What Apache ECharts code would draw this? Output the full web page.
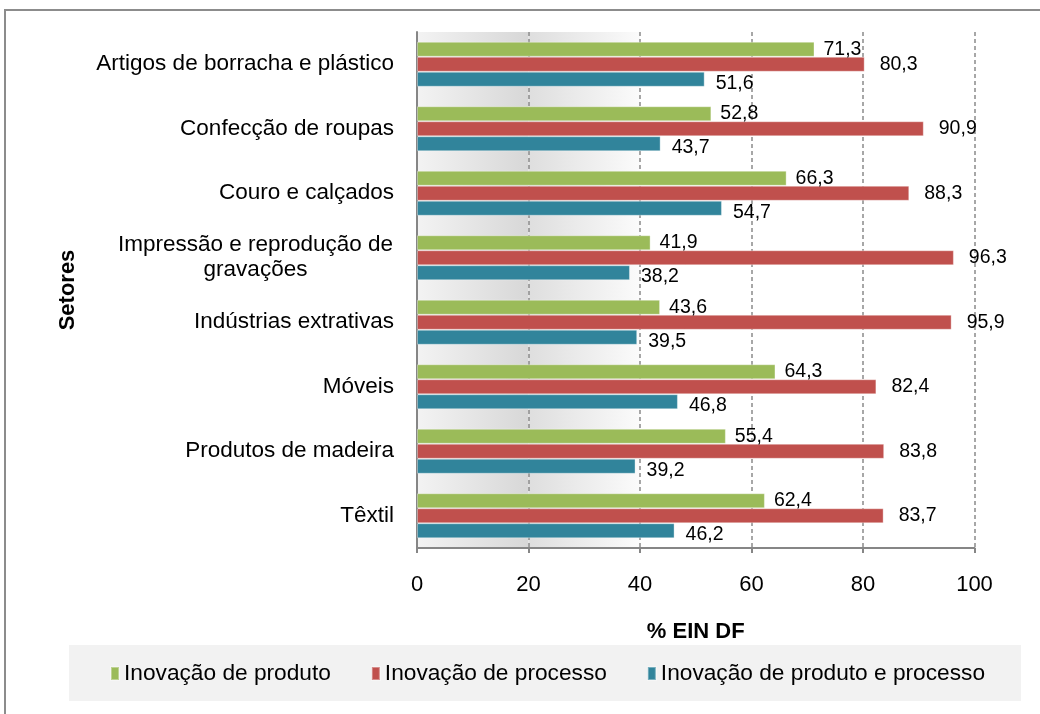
<!DOCTYPE html>
<html>
<head>
<meta charset="utf-8">
<script src="https://cdn.jsdelivr.net/npm/echarts@6/dist/echarts.min.js"></script>
<style>
  html, body { margin: 0; padding: 0; background: #ffffff; }
  #chart { width: 1040px; height: 714px; }
</style>
</head>
<body>
<div id="chart"></div>
<script>
// Sectors (category axis, top to bottom)
const sectors = [
  'Artigos de borracha e plástico',
  'Confecção de roupas',
  'Couro e calçados',
  'Impressão e reprodução de\ngravações',
  'Indústrias extrativas',
  'Móveis',
  'Produtos de madeira',
  'Têxtil'
];

// Series names
const seriesNames = [
  'Inovação de produto',
  'Inovação de processo',
  'Inovação de produto e processo'
];

// Share of innovating firms (%) per sector
const productValues = [71.3, 52.8, 66.3, 41.9, 43.6, 64.3, 55.4, 62.4];
const processValues = [80.3, 90.9, 88.3, 96.3, 95.9, 82.4, 83.8, 83.7];
const bothValues    = [51.6, 43.7, 54.7, 38.2, 39.5, 46.8, 39.2, 46.2];

// Value axis ticks
const xTicks = [0, 20, 40, 60, 80, 100];

const FONT = '"Liberation Sans", Arial, Helvetica, sans-serif';
const colors = ['#9BBB59', '#C0504D', '#31849B'];
const CAT_SIZE = 22.5;

// Width of the widest line among multi-line sector names, so the lines can be centred on each other
const measureCtx = document.createElement('canvas').getContext('2d');
measureCtx.font = CAT_SIZE + 'px ' + FONT;
let multiLineWidth = 0;
sectors.forEach(s => {
  const lines = s.split('\n');
  if (lines.length > 1) {
    lines.forEach(l => { multiLineWidth = Math.max(multiLineWidth, measureCtx.measureText(l).width); });
  }
});
multiLineWidth = Math.ceil(multiLineWidth) + 1;

const fmtComma = p => p.value.toFixed(1).replace('.', ',');

function barSeries(name, data, color, distance, offset) {
  return {
    name: name,
    type: 'bar',
    data: data,
    barWidth: 15,
    barGap: '0%',
    itemStyle: { color: color, borderColor: 'rgba(255,255,255,0.35)', borderWidth: 1 },
    label: {
      show: true,
      position: 'right',
      distance: distance,
      offset: offset,
      formatter: fmtComma,
      fontFamily: FONT,
      fontSize: 19.5,
      color: '#000000'
    },
    emphasis: { disabled: true }
  };
}

// Gradient fills for the shaded bands 0–20 and 20–40
const bandA = new echarts.graphic.LinearGradient(0, 0, 1, 0, [
  { offset: 0, color: '#f3f3f3' },
  { offset: 1, color: '#d7d7d7' }
]);
const bandB = new echarts.graphic.LinearGradient(0, 0, 1, 0, [
  { offset: 0, color: '#dedede' },
  { offset: 1, color: '#fbfbfb' }
]);

const chart = echarts.init(document.getElementById('chart'), null, { renderer: 'canvas' });

chart.setOption({
  backgroundColor: '#ffffff',
  animation: false,
  textStyle: { fontFamily: FONT },
  graphic: [
    {
      type: 'rect',
      z: 0,
      shape: { x: 5, y: 10, width: 1200, height: 900 },
      style: { fill: 'none', stroke: '#8c8c8c', lineWidth: 2 },
      silent: true
    },
    {
      type: 'rect',
      z: 0,
      shape: { x: 69, y: 645, width: 952, height: 56 },
      style: { fill: '#f2f2f2' },
      silent: true
    }
  ],
  legend: {
    data: seriesNames,
    left: 110,
    top: 662,
    padding: 0,
    itemWidth: 8,
    itemHeight: 13,
    itemGap: 40,
    icon: 'rect',
    textStyle: { fontFamily: FONT, fontSize: 22.7, color: '#000000' },
    selectedMode: false
  },
  grid: {
    left: 417,
    right: 65.5,
    top: 32,
    bottom: 166,
    containLabel: false
  },
  xAxis: {
    type: 'value',
    min: xTicks[0],
    max: xTicks[xTicks.length - 1],
    interval: xTicks[1] - xTicks[0],
    name: '% EIN DF',
    nameLocation: 'middle',
    nameGap: 73,
    nameTextStyle: { fontFamily: FONT, fontSize: 22, fontWeight: 'bold', color: '#000000' },
    axisLine: { show: true, lineStyle: { color: '#868686', width: 2 } },
    axisTick: { show: true, length: 5, lineStyle: { color: '#868686', width: 2 } },
    axisLabel: {
      margin: 26,
      fontFamily: FONT,
      fontSize: 22,
      color: '#000000',
      formatter: v => String(v)
    },
    splitLine: {
      show: true,
      lineStyle: { color: '#8a8a8a', width: 1.5, type: [4, 3] }
    },
    splitArea: {
      show: true,
      areaStyle: { color: [bandA, bandB, 'rgba(0,0,0,0)', 'rgba(0,0,0,0)', 'rgba(0,0,0,0)'] }
    }
  },
  yAxis: {
    type: 'category',
    data: sectors,
    inverse: true,
    name: 'Setores',
    nameLocation: 'middle',
    nameRotate: 90,
    nameGap: 338,
    nameTextStyle: { fontFamily: FONT, fontSize: 22, fontWeight: 'bold', color: '#000000' },
    axisLine: { show: true, lineStyle: { color: '#868686', width: 2 } },
    axisTick: { show: false },
    splitLine: { show: false },
    axisLabel: {
      margin: 23,
      fontFamily: FONT,
      fontSize: CAT_SIZE,
      color: '#000000',
      lineHeight: 25,
      formatter: v => {
        const lines = v.split('\n');
        if (lines.length === 1) return v;
        return lines.map(l => '{c|' + l + '}').join('\n');
      },
      rich: {
        c: {
          fontFamily: FONT,
          fontSize: CAT_SIZE,
          color: '#000000',
          lineHeight: 25,
          width: multiLineWidth,
          align: 'center'
        }
      }
    }
  },
  series: [
    barSeries(seriesNames[0], productValues, colors[0], 9, [0, 0]),
    barSeries(seriesNames[1], processValues, colors[1], 15, [0, 0]),
    barSeries(seriesNames[2], bothValues, colors[2], 11, [0, 4])
  ]
});
</script>
</body>
</html>
